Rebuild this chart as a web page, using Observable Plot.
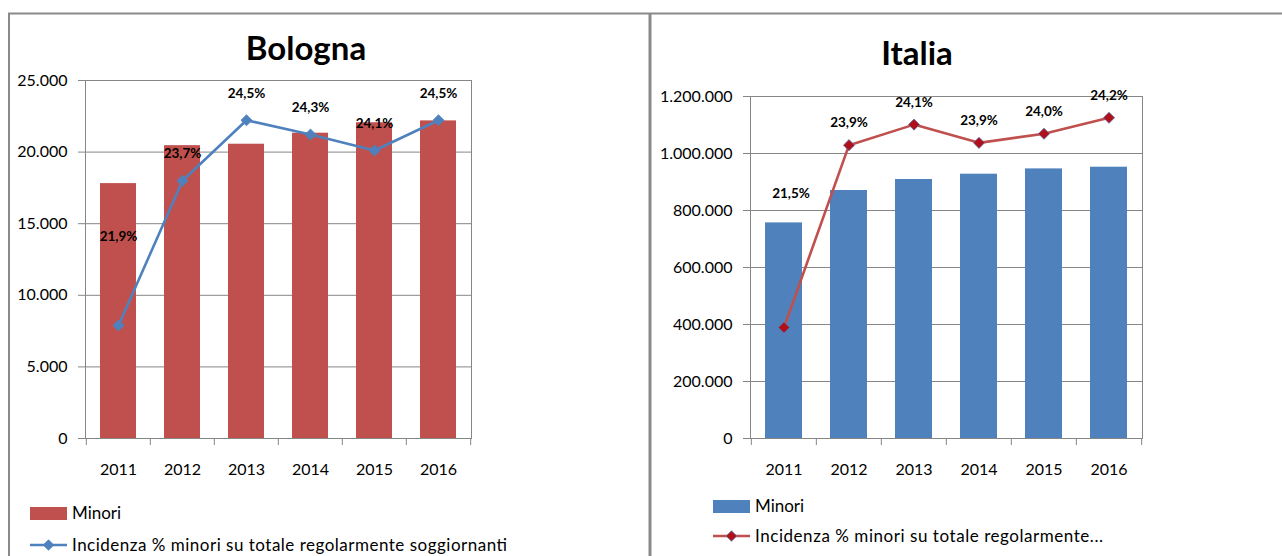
<!DOCTYPE html>
<html>
<head>
<meta charset="utf-8">
<script src="https://cdn.jsdelivr.net/npm/d3@7"></script>
<script src="https://cdn.jsdelivr.net/npm/@observablehq/plot@0.6"></script>
<style>
  html, body { margin: 0; padding: 0; background: #fff; }
  #root { position: relative; width: 1282px; height: 556px; overflow: hidden; background: #fff; font-family: Lato, "Open Sans", sans-serif; }
  .pane { position: absolute; top: 0; }
  #overlay { position: absolute; left: 0; top: 0; pointer-events: none; }
</style>
</head>
<body>
<div id="root">
  <div id="left" class="pane" style="left:0px"></div>
  <div id="right" class="pane" style="left:650px"></div>
</div>
<script>
// ---- Data ----
const years = ["2011", "2012", "2013", "2014", "2015", "2016"];

const minoriBologna = [17800, 20450, 20550, 21320, 22050, 22180];
const incidenzaBologna = [21.92, 23.74, 24.50, 24.32, 24.12, 24.50];

const minoriItalia = [756500, 870200, 908800, 927400, 946000, 951900];
const incidenzaItalia = [21.46, 23.86, 24.13, 23.89, 24.01, 24.22];

const yTicksBologna = [0, 5000, 10000, 15000, 20000, 25000];
const yTicksItalia = [0, 200000, 400000, 600000, 800000, 1000000, 1200000];

// secondary (hidden) percentage axes
const pctDomainBologna = [20.5, 25];
const pctDomainItalia = [20, 24.5];

const titles = ["Bologna", "Italia"];
const legendBars = "Minori";
const legendLineFull = "Incidenza % minori su totale regolarmente soggiornanti";
const legendLineShort = "Incidenza % minori su totale regolarmente...";

// ---- Formatting ----
const it = d3.formatLocale({decimal: ",", thousands: ".", grouping: [3], currency: ["", " €"]});
const fmtInt = it.format(",");
const fmtPct = (v) => it.format(".1f")(v) + "%";

const FONT = "Lato, 'Open Sans', sans-serif";
const GRID = "#868686";

function panel(opts) {
  const {minori, pct, ticks, pctDomain, width, mL, mR, mT, mB,
         barColor, lineColor, dotFill, dotStroke, firstDx, firstDy, restDy} = opts;
  const height = 500;
  const rows = years.map((y, i) => ({year: y, minori: minori[i], pct: pct[i]}));
  const yMax = ticks[ticks.length - 1];
  const sec = d3.scaleLinear(pctDomain, [0, yMax]);
  const step = (width - mL - mR) / years.length;
  return Plot.plot({
    width, height,
    marginLeft: mL, marginRight: mR, marginTop: mT, marginBottom: mB,
    style: {fontFamily: FONT, fontSize: "16px", color: "#000", background: "transparent", overflow: "visible"},
    x: {type: "band", domain: years, paddingInner: 0.43, paddingOuter: 0.215, label: null},
    y: {domain: [0, yMax], label: null},
    marks: [
      Plot.ruleY(ticks, {stroke: GRID, strokeWidth: 1}),
      Plot.frame({stroke: GRID, strokeWidth: 1}),
      Plot.barY(rows, {x: "year", y: "minori", fill: barColor}),
      Plot.ruleX(years, {x: d => d, y1: () => 0, y2: () => 0, dx: -step / 2, insetBottom: -7, stroke: GRID}),
      Plot.ruleX(years.slice(-1), {x: d => d, y1: () => 0, y2: () => 0, dx: step / 2, insetBottom: -7, stroke: GRID}),
      Plot.line(rows, {x: "year", y: d => sec(d.pct), stroke: lineColor, strokeWidth: 2.6}),
      Plot.dot(rows, {x: "year", y: d => sec(d.pct), symbol: "diamond2", r: 5, fill: dotFill, stroke: dotStroke, strokeWidth: 0.8}),
      Plot.text(rows.slice(0, 1), {x: "year", y: d => sec(d.pct), text: d => fmtPct(d.pct), dx: firstDx, dy: firstDy, fontWeight: "bold", fontSize: 13.5, fill: "#000"}),
      Plot.text(rows.slice(1), {x: "year", y: d => sec(d.pct), text: d => fmtPct(d.pct), dy: restDy, fontWeight: "bold", fontSize: 13.5, fill: "#000"}),
      Plot.axisY(ticks, {tickSize: 7, tickPadding: 11, tickFormat: fmtInt, stroke: GRID, fill: "#000", fontSize: 16, label: null}),
      Plot.axisX({tickSize: 0, tickPadding: 25, fill: "#000", fontSize: 16, label: null})
    ]
  });
}

document.getElementById("left").appendChild(panel({
  minori: minoriBologna, pct: incidenzaBologna, ticks: yTicksBologna, pctDomain: pctDomainBologna,
  width: 650, mL: 85, mR: 179, mT: 80, mB: 62,
  barColor: "#C0504D", lineColor: "#4F81BD", dotFill: "#4F81BD", dotStroke: "#4F81BD",
  firstDx: 0, firstDy: -89, restDy: -27
}));

document.getElementById("right").appendChild(panel({
  minori: minoriItalia, pct: incidenzaItalia, ticks: yTicksItalia, pctDomain: pctDomainItalia,
  width: 632, mL: 100, mR: 140, mT: 96, mB: 62,
  barColor: "#4F81BD", lineColor: "#C0504D", dotFill: "#B0101A", dotStroke: "#5A6FA8",
  firstDx: 7, firstDy: -134, restDy: -22
}));

// ---- Overlay: borders, titles, legends ----
const svg = d3.select("#root").append("svg")
  .attr("id", "overlay").attr("width", 1282).attr("height", 556)
  .style("font-family", FONT);

// panel borders
svg.append("line").attr("x1", 8).attr("x2", 1282).attr("y1", 13.5).attr("y2", 13.5).attr("stroke", "#8a8a8a").attr("stroke-width", 2);
svg.append("line").attr("x1", 9).attr("x2", 9).attr("y1", 13).attr("y2", 556).attr("stroke", "#8a8a8a").attr("stroke-width", 2);
svg.append("line").attr("x1", 650).attr("x2", 650).attr("y1", 13).attr("y2", 556).attr("stroke", "#8a8a8a").attr("stroke-width", 3);

// titles
svg.append("text").attr("x", 306).attr("y", 60).attr("text-anchor", "middle")
  .attr("font-size", 33).attr("font-weight", "bold").attr("fill", "#000").text(titles[0]);
svg.append("text").attr("x", 917).attr("y", 65).attr("text-anchor", "middle")
  .attr("font-size", 33).attr("font-weight", "bold").attr("fill", "#000").text(titles[1]);

function legend(x0, yBar, yLine, barColor, lineColor, dotFill, dotStroke, label2, len2) {
  const g = svg.append("g");
  g.append("rect").attr("x", x0).attr("y", yBar - 6).attr("width", 37).attr("height", 13).attr("fill", barColor);
  g.append("text").attr("x", x0 + 42).attr("y", yBar + 6).attr("font-size", 17).attr("fill", "#000").text(legendBars);
  g.append("line").attr("x1", x0).attr("x2", x0 + 37).attr("y1", yLine).attr("y2", yLine)
    .attr("stroke", lineColor).attr("stroke-width", 2.6);
  g.append("path").attr("d", d3.symbol(d3.symbolDiamond2, 70)())
    .attr("transform", `translate(${x0 + 18.5},${yLine})`)
    .attr("fill", dotFill).attr("stroke", dotStroke).attr("stroke-width", 0.8);
  g.append("text").attr("x", x0 + 42).attr("y", yLine + 6).attr("font-size", 17).attr("fill", "#000")
    .attr("textLength", len2).attr("lengthAdjust", "spacing").text(label2);
}
legend(30, 513, 545, "#C0504D", "#4F81BD", "#4F81BD", "#4F81BD", legendLineFull, 435);
legend(713, 506, 536, "#4F81BD", "#C0504D", "#B0101A", "#5A6FA8", legendLineShort, 348);
</script>
</body>
</html>
